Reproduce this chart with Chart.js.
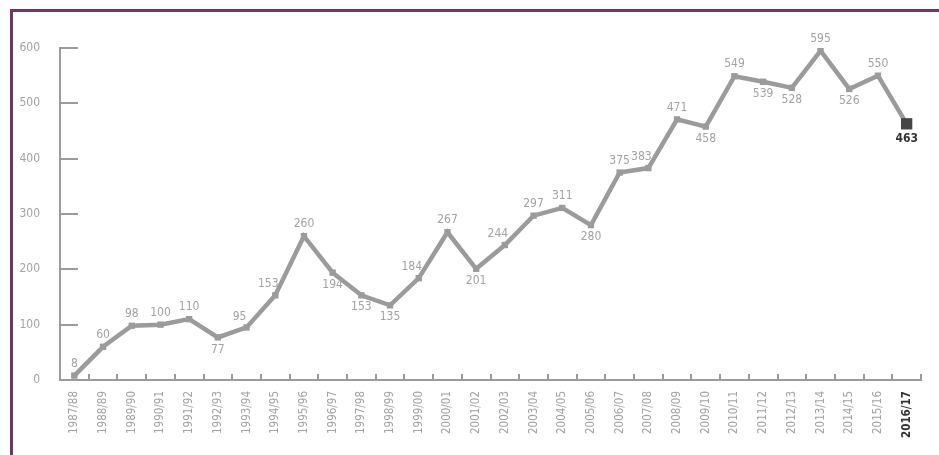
<!DOCTYPE html>
<html>
  <head>
    <script src="https://cdn.jsdelivr.net/npm/chart.js"></script>
    <style>
      body {
        margin: 0;
        padding: 0;
        background: #ffffff;
        overflow: hidden;
      }

      #frame {
        position: absolute;
        left: 10px;
        top: 9px;
        width: 940px;
        height: 460px;
        border-top: 3px solid #73365f;
        border-left: 3px solid #73365f;
        pointer-events: none;
      }

      canvas {
        position: absolute;
        left: 0;
        top: 0;
      }
    </style>
  </head>
  <body>
    <canvas id="lineChart" width="939" height="455"></canvas>
    <div id="frame"></div>
    <script>
      const seasons = [
        "1987/88", "1988/89", "1989/90", "1990/91", "1991/92", "1992/93",
        "1993/94", "1994/95", "1995/96", "1996/97", "1997/98", "1998/99",
        "1999/00", "2000/01", "2001/02", "2002/03", "2003/04", "2004/05",
        "2005/06", "2006/07", "2007/08", "2008/09", "2009/10", "2010/11",
        "2011/12", "2012/13", "2013/14", "2014/15", "2015/16", "2016/17",
      ];
      const counts = [
        8, 60, 98, 100, 110, 77, 95, 153, 260, 194, 153, 135, 184, 267, 201,
        244, 297, 311, 280, 375, 383, 471, 458, 549, 539, 528, 595, 526, 550, 463,
      ];
      const yTicks = [0, 100, 200, 300, 400, 500, 600];

      // where each value label sits: a = above, b = below, l = above-left
      const labelSide = [
        "a", "a", "a", "a", "a", "b", "l", "l", "a", "b", "b", "b", "l", "a", "b",
        "l", "a", "a", "b", "a", "l", "a", "b", "a", "b", "b", "a", "b", "a", "b",
      ];

      const grey = "#9b9b9b";
      const labelGrey = "#a3a3a3";
      const dark = "#454545";
      const fontFamily = "'DejaVu Sans Condensed', 'Liberation Sans Narrow', sans-serif";
      const last = counts.length - 1;

      // value labels next to the points
      const valueLabels = {
        id: "valueLabels",
        afterDatasetsDraw(chart) {
          const ctx = chart.ctx;
          const meta = chart.getDatasetMeta(0);
          ctx.save();
          meta.data.forEach((pt, i) => {
            const isLast = i === last;
            ctx.font = (isLast ? "bold " : "") + "12px " + fontFamily;
            ctx.fillStyle = isLast ? "#333333" : labelGrey;
            ctx.textAlign = "center";
            let x = pt.x;
            let y = pt.y;
            const side = labelSide[i];
            if (side === "a") {
              ctx.textBaseline = "bottom";
              y -= 6;
            } else if (side === "l") {
              ctx.textBaseline = "bottom";
              x -= 7;
              y -= 5;
            } else {
              ctx.textBaseline = "top";
              y += isLast ? 9 : 6;
            }
            ctx.fillText(String(counts[i]), x, y);
          });
          ctx.restore();
        },
      };

      // short tick marks pointing into the plot
      const innerTicks = {
        id: "innerTicks",
        afterDraw(chart) {
          const ctx = chart.ctx;
          const xs = chart.scales.x;
          const ys = chart.scales.y;
          const left = chart.chartArea.left;
          const bottom = chart.chartArea.bottom;
          ctx.save();
          ctx.strokeStyle = grey;
          ctx.lineWidth = 2;
          ctx.beginPath();
          yTicks.forEach((v) => {
            if (v === 0) return;
            const py = Math.round(ys.getPixelForValue(v));
            ctx.moveTo(left, py);
            ctx.lineTo(left + 18, py);
          });
          const half = (xs.getPixelForValue(1) - xs.getPixelForValue(0)) / 2;
          for (let i = 0; i < seasons.length; i++) {
            const px = Math.round(xs.getPixelForValue(i) + half);
            ctx.moveTo(px, bottom);
            ctx.lineTo(px, bottom - 6);
          }
          ctx.stroke();
          ctx.restore();
        },
      };

      const ctx = document.getElementById("lineChart").getContext("2d");
      new Chart(ctx, {
        type: "line",
        data: {
          labels: seasons,
          datasets: [
            {
              data: counts,
              borderColor: grey,
              borderWidth: 4.5,
              tension: 0,
              pointStyle: "rect",
              pointRadius: (c) => (c.dataIndex === last ? 8 : 4.5),
              pointBackgroundColor: (c) => (c.dataIndex === last ? dark : grey),
              pointBorderWidth: 0,
            },
          ],
        },
        options: {
          responsive: false,
          animation: false,
          layout: {
            padding: { top: 48, right: 18, left: 10, bottom: 0 },
          },
          plugins: {
            legend: { display: false },
            tooltip: { enabled: false },
          },
          scales: {
            x: {
              offset: true,
              grid: { display: false },
              border: { display: true, color: grey, width: 2 },
              ticks: {
                autoSkip: false,
                minRotation: 90,
                maxRotation: 90,
                padding: 3,
                color: (c) => (c.index === last ? "#333333" : labelGrey),
                font: (c) => ({
                  family: fontFamily,
                  size: 11.5,
                  weight: c.index === last ? "bold" : "normal",
                }),
              },
              afterFit(scale) {
                scale.height = 75;
              },
            },
            y: {
              min: 0,
              max: 600,
              grid: { display: false },
              border: { display: true, color: grey, width: 2 },
              afterBuildTicks(scale) {
                scale.ticks = yTicks.map((v) => ({ value: v }));
              },
              ticks: {
                padding: 12,
                color: labelGrey,
                font: { family: fontFamily, size: 12 },
              },
              afterFit(scale) {
                scale.width = 50;
              },
            },
          },
        },
        plugins: [valueLabels, innerTicks],
      });
    </script>
  </body>
</html>
